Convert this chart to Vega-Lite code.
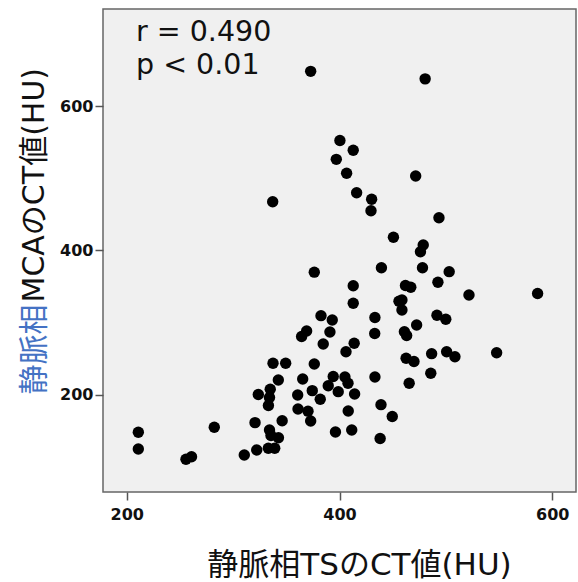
{
  "$schema": "https://vega.github.io/schema/vega-lite/v6.json",
  "autosize": {"type": "none"},
  "padding": {"left": 103, "top": 9, "right": 2, "bottom": 90},
  "width": 473,
  "height": 483,
  "background": "white",
  "config": {
    "view": {"fill": "#f0f0f0", "stroke": "#666666", "strokeWidth": 1.5},
    "axis": {
      "grid": false,
      "domain": false,
      "labelFont": "DejaVu Sans",
      "labelFontWeight": "bold",
      "labelFontSize": 16,
      "labelColor": "#111111",
      "tickColor": "#555555",
      "tickSize": 8,
      "tickWidth": 1.5,
      "titleFont": "DejaVu Sans, Noto Sans CJK JP",
      "titleFontWeight": "normal",
      "titleFontSize": 30
    }
  },
  "datasets": {
    "points": [
      {"ts": 210.9, "mca": 148.4}, {"ts": 210.9, "mca": 125.3}, {"ts": 255.7, "mca": 111.0}, {"ts": 260.9, "mca": 114.6},
      {"ts": 282.3, "mca": 155.3}, {"ts": 310.5, "mca": 117.0}, {"ts": 320.6, "mca": 161.7}, {"ts": 322.2, "mca": 123.9},
      {"ts": 323.7, "mca": 200.7}, {"ts": 334.9, "mca": 207.9}, {"ts": 333.2, "mca": 185.5}, {"ts": 342.5, "mca": 220.8},
      {"ts": 334.2, "mca": 151.6}, {"ts": 335.6, "mca": 143.9}, {"ts": 342.6, "mca": 140.9}, {"ts": 346.1, "mca": 164.3},
      {"ts": 333.1, "mca": 126.2}, {"ts": 339.1, "mca": 126.2}, {"ts": 360.7, "mca": 200.0}, {"ts": 361.0, "mca": 180.6},
      {"ts": 365.4, "mca": 222.1}, {"ts": 337.2, "mca": 467.5}, {"ts": 337.5, "mca": 243.9}, {"ts": 349.4, "mca": 243.9},
      {"ts": 376.3, "mca": 242.9}, {"ts": 364.4, "mca": 281.0}, {"ts": 369.1, "mca": 288.6}, {"ts": 384.7, "mca": 270.6},
      {"ts": 391.0, "mca": 287.2}, {"ts": 406.1, "mca": 259.9}, {"ts": 413.8, "mca": 271.6}, {"ts": 433.1, "mca": 285.1},
      {"ts": 433.3, "mca": 307.3}, {"ts": 382.6, "mca": 309.8}, {"ts": 393.2, "mca": 303.8}, {"ts": 376.3, "mca": 370.0},
      {"ts": 412.9, "mca": 351.3}, {"ts": 412.9, "mca": 326.9}, {"ts": 439.4, "mca": 376.2}, {"ts": 450.7, "mca": 418.3},
      {"ts": 394.1, "mca": 225.6}, {"ts": 405.1, "mca": 224.9}, {"ts": 433.3, "mca": 224.9}, {"ts": 374.4, "mca": 206.0},
      {"ts": 389.4, "mca": 212.7}, {"ts": 398.8, "mca": 204.6}, {"ts": 408.0, "mca": 216.2}, {"ts": 414.2, "mca": 201.4},
      {"ts": 381.9, "mca": 194.0}, {"ts": 370.4, "mca": 177.6}, {"ts": 372.9, "mca": 164.0}, {"ts": 408.2, "mca": 177.9},
      {"ts": 439.0, "mca": 186.6}, {"ts": 396.2, "mca": 148.8}, {"ts": 411.5, "mca": 151.6}, {"ts": 438.2, "mca": 139.8},
      {"ts": 449.6, "mca": 170.2}, {"ts": 465.5, "mca": 216.2}, {"ts": 485.8, "mca": 230.0}, {"ts": 462.6, "mca": 250.8},
      {"ts": 470.0, "mca": 246.4}, {"ts": 486.6, "mca": 257.2}, {"ts": 500.7, "mca": 259.9}, {"ts": 508.5, "mca": 253.0},
      {"ts": 547.7, "mca": 258.5}, {"ts": 461.0, "mca": 287.6}, {"ts": 463.1, "mca": 282.4}, {"ts": 472.5, "mca": 296.9},
      {"ts": 491.6, "mca": 310.3}, {"ts": 499.9, "mca": 304.8}, {"ts": 455.9, "mca": 329.7}, {"ts": 458.7, "mca": 331.5},
      {"ts": 458.7, "mca": 317.6}, {"ts": 521.7, "mca": 338.4}, {"ts": 586.2, "mca": 340.5}, {"ts": 462.0, "mca": 351.6},
      {"ts": 467.0, "mca": 349.1}, {"ts": 492.5, "mca": 356.0}, {"ts": 503.1, "mca": 370.7}, {"ts": 478.0, "mca": 376.2},
      {"ts": 478.7, "mca": 407.6}, {"ts": 476.1, "mca": 398.3}, {"ts": 493.5, "mca": 445.4}, {"ts": 416.1, "mca": 480.0},
      {"ts": 430.2, "mca": 470.9}, {"ts": 429.6, "mca": 455.1}, {"ts": 400.4, "mca": 552.2}, {"ts": 412.9, "mca": 538.7},
      {"ts": 397.0, "mca": 526.2}, {"ts": 406.7, "mca": 506.9}, {"ts": 471.6, "mca": 503.1}, {"ts": 372.9, "mca": 648.0},
      {"ts": 480.5, "mca": 637.6}, {"ts": 334.2, "mca": 196.5}
    ]
  },
  "layer": [
    {
      "data": {"name": "points"},
      "mark": {"type": "circle", "size": 130, "color": "#000000", "opacity": 1},
      "encoding": {
        "x": {
          "field": "ts", "type": "quantitative",
          "scale": {"domain": [177.7, 622.3], "nice": false, "zero": false},
          "axis": {
            "values": [200, 400, 600],
            "labelPadding": 6,
            "title": "静脈相TSのCT値(HU)",
            "titleColor": "#111111",
            "titleFontSize": 31,
            "titleX": 256,
            "titleY": 82,
            "titleAlign": "center",
            "titleBaseline": "alphabetic",
            "titleAngle": 0
          }
        },
        "y": {
          "field": "mca", "type": "quantitative",
          "scale": {"domain": [65.7, 734.3], "nice": false, "zero": false},
          "axis": {
            "orient": "left",
            "values": [200, 400, 600],
            "labelPadding": 2,
            "title": "静脈相",
            "titleColor": "#4472c4",
            "titleAngle": 270,
            "titleAlign": "left",
            "titleBaseline": "alphabetic",
            "titleX": -60,
            "titleY": 385
          }
        }
      }
    },
    {
      "data": {"values": [{"a": 1}]},
      "mark": {"type": "text", "text": ["r = 0.490", "p < 0.01"], "font": "DejaVu Sans", "fontSize": 28.5, "lineHeight": 33, "align": "left", "baseline": "alphabetic", "color": "#111111"},
      "encoding": {
        "x": {
          "datum": 208.7, "type": "quantitative",
          "axis": {
            "values": [200, 400, 600],
            "labelPadding": 6,
            "title": "静脈相TSのCT値(HU)",
            "titleColor": "#111111",
            "titleFontSize": 31,
            "titleX": 256,
            "titleY": 82,
            "titleAlign": "center",
            "titleBaseline": "alphabetic",
            "titleAngle": 0
          }
        },
        "y": {
          "datum": 690.4, "type": "quantitative",
          "axis": {
            "orient": "left",
            "labels": false,
            "ticks": false,
            "domain": false,
            "title": "MCAのCT値(HU)",
            "titleColor": "#111111",
            "titleAngle": 270,
            "titleAlign": "left",
            "titleBaseline": "alphabetic",
            "titleX": -60,
            "titleY": 293
          }
        }
      }
    }
  ],
  "resolve": {"axis": {"y": "independent"}}
}
